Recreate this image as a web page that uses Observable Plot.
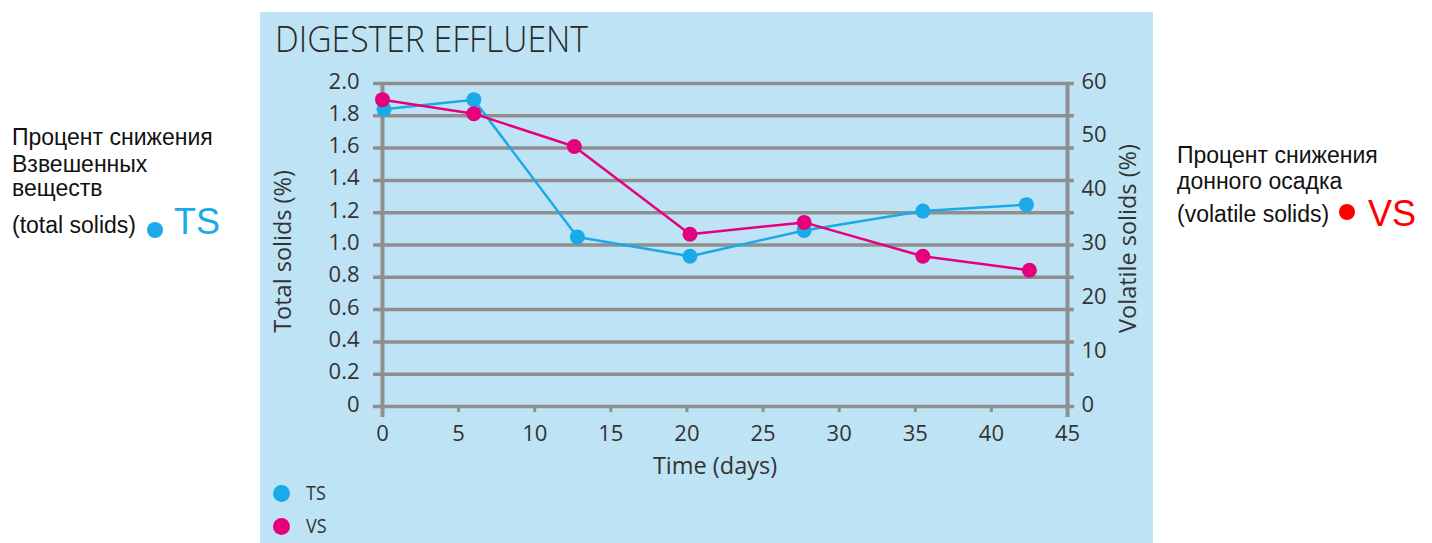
<!DOCTYPE html>
<html>
<head>
<meta charset="utf-8">
<script src="https://cdn.jsdelivr.net/npm/d3@7"></script>
<script src="https://cdn.jsdelivr.net/npm/@observablehq/plot@0.6"></script>
<style>
  html, body { margin: 0; padding: 0; background: #ffffff; }
  #page { position: relative; width: 1432px; height: 543px; overflow: hidden; font-family: "Liberation Sans", Arial, sans-serif; }
  .side { position: absolute; font-size: 23px; line-height: 1; color: #111; white-space: nowrap; }
  .big { position: absolute; font-size: 36px; line-height: 1; white-space: nowrap; }
  .dot { position: absolute; border-radius: 50%; }
  #panel { position: absolute; left: 260px; top: 12px; width: 893px; height: 531px; background: #bee3f5; }
  #title { position: absolute; left: 15px; top: 7px; font-family: "Open Sans", sans-serif; font-weight: 300; font-size: 37px; line-height: 1; color: #2a2a2a; white-space: nowrap; transform: scaleX(0.91); transform-origin: 0 0; }
  #chart { position: absolute; left: 0; top: 40px; }
  .leg { position: absolute; font-family: "Open Sans", sans-serif; font-size: 20px; line-height: 1; color: #333; transform: scaleX(0.9); transform-origin: 0 0; }
</style>
</head>
<body>
<div id="page">
  <div class="side" style="left:12px; top:126px;">Процент снижения</div>
  <div class="side" style="left:12px; top:153px;">Взвешенных</div>
  <div class="side" style="left:12px; top:177px;">веществ</div>
  <div class="side" style="left:12px; top:214px;">(total solids)</div>
  <div class="dot" style="left:147px; top:222px; width:16px; height:16px; background:#1aaae8;"></div>
  <div class="big" style="left:174px; top:204px; color:#1aaae8;">TS</div>

  <div class="side" style="left:1177px; top:144px;">Процент снижения</div>
  <div class="side" style="left:1177px; top:170px;">донного осадка</div>
  <div class="side" style="left:1177px; top:203px;">(volatile solids)</div>
  <div class="dot" style="left:1339px; top:204px; width:16px; height:16px; background:#ff0000;"></div>
  <div class="big" style="left:1368px; top:196px; color:#ff0000;">VS</div>

  <div id="panel">
    <div id="title">DIGESTER EFFLUENT</div>
    <div id="chart"></div>
    <div class="dot" style="left:13px; top:473px; width:17px; height:17px; background:#1aaae8;"></div>
    <div class="leg" style="left:46px; top:471px;">TS</div>
    <div class="dot" style="left:13px; top:506px; width:17px; height:17px; background:#e5007d;"></div>
    <div class="leg" style="left:46px; top:504px;">VS</div>
  </div>
</div>
<script>
// ---- data ----
const tsDays = [0.1, 6, 12.8, 20.2, 27.7, 35.5, 42.3];
const tsValues = [1.84, 1.90, 1.05, 0.93, 1.09, 1.21, 1.25];   // Total solids (%)
const vsDays = [0, 6, 12.6, 20.2, 27.7, 35.5, 42.5];
const vsValues = [57.0, 54.4, 48.3, 32.0, 34.2, 27.9, 25.3];   // Volatile solids (%)
const xTicks = [0, 5, 10, 15, 20, 25, 30, 35, 40, 45];
const yLeftTicks = [0, 0.2, 0.4, 0.6, 0.8, 1.0, 1.2, 1.4, 1.6, 1.8, 2.0];
const yRightTicks = [0, 10, 20, 30, 40, 50, 60];

const ratio = 2 / 60; // right axis (0-60) mapped onto left axis (0-2)
const tsData = tsDays.map((d, i) => ({day: d, v: tsValues[i]}));
const vsData = vsDays.map((d, i) => ({day: d, v: vsValues[i] * ratio}));

const gray = "#8f8f8f";
const blue = "#1aaae8";
const pink = "#e5007d";
const txt = "#333333";

const chart = Plot.plot({
  width: 893,
  height: 450,
  marginLeft: 122,
  marginRight: 86,
  marginTop: 31,
  marginBottom: 96,
  style: {background: "transparent", fontFamily: "Open Sans, sans-serif", fontSize: "22px", color: txt},
  x: {domain: [0, 45]},
  y: {domain: [0, 2]},
  marks: [
    Plot.ruleY(yLeftTicks, {stroke: gray, strokeWidth: 3.5, insetLeft: -9, insetRight: -7}),
    Plot.ruleX([0, 45], {stroke: gray, strokeWidth: 4, insetBottom: -11}),
    Plot.axisX(xTicks, {anchor: "bottom", tickSize: 6, tickPadding: 13, stroke: gray, strokeWidth: 3, fill: txt, fontSize: 22, label: null}),
    Plot.axisY(yLeftTicks, {anchor: "left", tickSize: 0, tickPadding: 23, dy: -2, fill: txt, fontSize: 22, label: null,
      tickFormat: d => d === 0 ? "0" : d.toFixed(1)}),
    Plot.axisY(yRightTicks.map(v => v * ratio), {anchor: "right", tickSize: 0, tickPadding: 14, dy: -2, fill: txt, fontSize: 22, label: null,
      tickFormat: d => String(Math.round(d / ratio))}),
    Plot.line(tsData, {x: "day", y: "v", stroke: blue, strokeWidth: 2.5}),
    Plot.dot(tsData, {x: "day", y: "v", r: 7.5, fill: blue}),
    Plot.line(vsData, {x: "day", y: "v", stroke: pink, strokeWidth: 2.5}),
    Plot.dot(vsData, {x: "day", y: "v", r: 7.5, fill: pink}),
    Plot.text(["Total solids (%)"], {text: d => d, frameAnchor: "left", rotate: -90, dx: -99, dy: 6.5,
      textAnchor: "middle", lineAnchor: "middle", fontSize: 23.5, fill: txt}),
    Plot.text(["Volatile solids (%)"], {text: d => d, frameAnchor: "right", rotate: -90, dx: 61, dy: -6.5,
      textAnchor: "middle", lineAnchor: "middle", fontSize: 23.5, fill: txt}),
    Plot.text(["Time (days)"], {text: d => d, frameAnchor: "bottom", dx: -10, dy: 60,
      textAnchor: "middle", lineAnchor: "middle", fontSize: 23.5, fill: txt})
  ]
});
document.getElementById("chart").appendChild(chart);
</script>
</body>
</html>
